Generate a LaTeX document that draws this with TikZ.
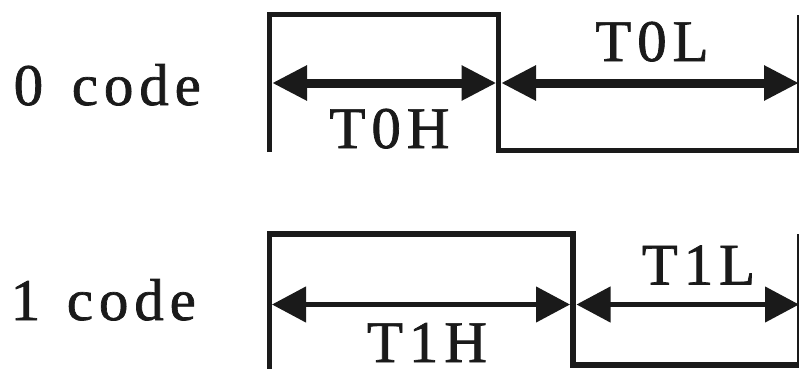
\documentclass[tikz,border=0pt]{standalone}
\usepackage{fontspec}
\setmainfont{Liberation Serif}[LetterSpace=10,FakeBold=1.2]
\usetikzlibrary{arrows.meta}
\definecolor{ink}{RGB}{26,26,26}
\tikzset{
  wave/.style={draw=ink, line width=5.7pt, line join=miter},
  dimA/.style={draw=ink, line width=9pt, {Triangle[length=35pt,width=33pt]}-{Triangle[length=35pt,width=33pt]}},
  dimB/.style={draw=ink, line width=4.5pt, {Triangle[length=34pt,width=35pt]}-{Triangle[length=34pt,width=35pt]}},
  lbl/.style={text=ink, inner sep=0pt, font=\fontsize{59}{59}\selectfont}
}
\begin{document}
\begin{tikzpicture}[x=1pt,y=1pt]
\useasboundingbox (0,0) rectangle (799,368);
% row 1 (0 code)
\coordinate (a0) at (269.5,216);
\coordinate (a1) at (269.5,353.5);
\coordinate (a2) at (498.5,353.5);
\coordinate (a3) at (498.5,217.5);
\coordinate (a4) at (799.5,217.5);
\coordinate (a5) at (799.5,353.5);
\draw[wave] (a0) -- (a1) -- (a2) -- (a3) -- (a4) -- (a5);
\coordinate (p0) at (272,285);
\coordinate (p1) at (496.5,285);
\coordinate (p2) at (501,285);
\coordinate (p3) at (799,285);
\draw[dimA] (p0) -- (p1);
\draw[dimA] (p2) -- (p3);
\node[lbl, anchor=base west] (code0) at (13.5,263) {0\hspace{8pt} code};
\node[lbl, anchor=base] (t0h) at (389.5,220) {T0H};
\node[lbl, anchor=base] (t0l) at (652,307) {T0L};
% row 2 (1 code)
\coordinate (b0) at (269.5,-5);
\coordinate (b1) at (269.5,134);
\coordinate (b2) at (573,134);
\coordinate (b3) at (573,3);
\coordinate (b4) at (799.5,3);
\coordinate (b5) at (799.5,134);
\draw[wave] (b0) -- (b1) -- (b2) -- (b3) -- (b4) -- (b5);
\coordinate (q0) at (272,63.5);
\coordinate (q1) at (570,63.5);
\coordinate (q2) at (576.5,63.5);
\coordinate (q3) at (799,63.5);
\draw[dimB] (q0) -- (q1);
\draw[dimB] (q2) -- (q3);
\node[lbl, anchor=base west] (code1) at (10.5,48) {1\hspace{6pt} code};
\node[lbl, anchor=base] (t1h) at (427,6) {T1H};
\node[lbl, anchor=base] (t1l) at (698.5,83.5) {T1L};
\end{tikzpicture}
\end{document}
